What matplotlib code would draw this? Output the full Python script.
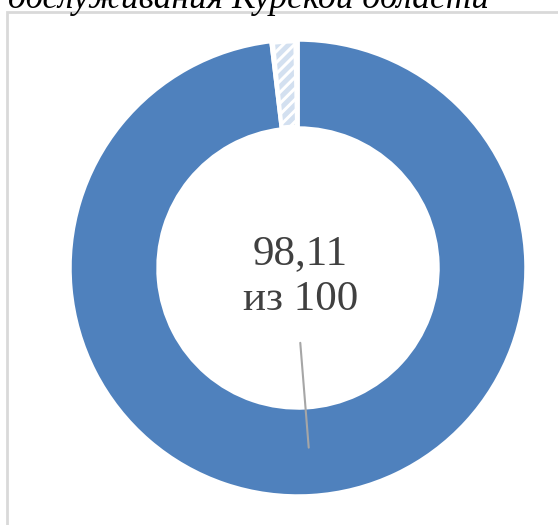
import matplotlib.pyplot as plt
from matplotlib.patches import Wedge, Rectangle

# data
labels = ["Оценка", "Остаток"]
values = [98.11, 1.89]
score_text = "98,11\nиз 100"
title_text = "обслуживания Курской области"

blue = "#4F81BD"
hatch_blue = "#d3e0f0"

plt.rcParams["hatch.linewidth"] = 3.5

fig = plt.figure(figsize=(5.58, 5.25), dpi=100)

# chart frame (light gray border, runs past the right and bottom edges)
fig.patches.append(Rectangle((7 / 558, -0.05), 1.1, (525 - 12) / 525 + 0.05,
                             transform=fig.transFigure, fill=False,
                             edgecolor="#d9d9d9", linewidth=2))

# title, clipped at the top as in the source
fig.text(8 / 558, 1 - 8 / 525, title_text, fontsize=25.5, style="italic",
         family="Liberation Serif", ha="left", va="baseline", color="black")

ax = fig.add_axes([70 / 558, 29 / 525, 456 / 558, 456 / 525])

ring = 0.386
wedges, _ = ax.pie(values, startangle=90, counterclock=False, radius=1,
                   colors=[blue, "white"],
                   wedgeprops=dict(width=ring, edgecolor="white", linewidth=2.5))
ax.set_xlim(-1, 1)
ax.set_ylim(-1, 1)
ax.set_aspect("equal")
ax.axis("off")

# hatched remainder slice
w = wedges[1]
pad = 1.2
ax.add_patch(Wedge(w.center, 0.985, w.theta1 + pad, w.theta2 - pad * 0.8,
                   width=ring - 0.03, facecolor="none", edgecolor=hatch_blue,
                   hatch="///", linewidth=0))

ax.text(0.01, -0.04, score_text, ha="center", va="center", fontsize=31,
        family="Liberation Serif", color="#404040", linespacing=1.25)

ax.annotate("", xy=(0.048, -0.8), xytext=(0.009, -0.316),
            arrowprops=dict(arrowstyle="-", color="#a6a6a6", lw=1.5))

fig.savefig("out.png", dpi=100)
